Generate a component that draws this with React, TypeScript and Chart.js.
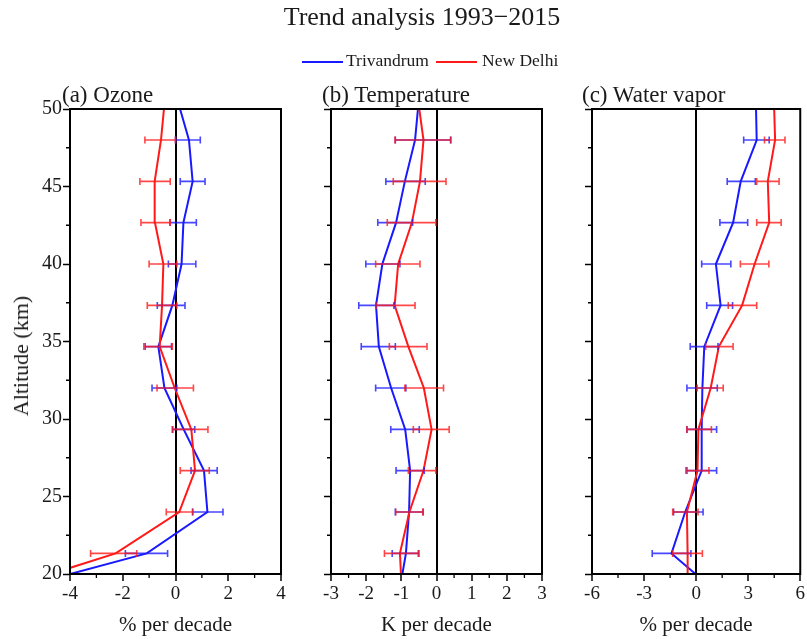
import React, { useEffect, useRef } from 'react';
import { Chart, registerables } from 'chart.js';
Chart.register(...registerables);

const FONT = "'Liberation Serif', 'Times New Roman', Times, serif";
const TEXT = '#1a1a1a';
const BLUE = 'rgb(25,25,255)';
const RED = 'rgb(255,25,25)';
const BLUE_BAR = 'rgba(25,25,255,0.8)';
const RED_BAR = 'rgba(255,25,25,0.8)';

const TITLE = 'Trend analysis 1993\u22122015';
const SERIES_NAMES = ['Trivandrum', 'New Delhi'];
const PANEL_TITLES = ['(a) Ozone', '(b) Temperature', '(c) Water vapor'];
const X_TITLES = ['% per decade', 'K per decade', '% per decade'];
const Y_TITLE = 'Altitude (km)';

// altitude levels (km)
const ALTITUDE = [18.67, 21.33, 24, 26.67, 29.33, 32, 34.67, 37.33, 40, 42.67, 45.33, 48, 50.67];
const Y_TICKS = [20, 25, 30, 35, 40, 45, 50];
const X_TICKS_OZ = [-4, -2, 0, 2, 4];
const X_TICKS_T = [-3, -2, -1, 0, 1, 2, 3];
const X_TICKS_WV = [-6, -3, 0, 3, 6];

// (a) Ozone, % per decade
const OZ_TRV = [-6.9, -1.09, 1.21, 1.08, 0.31, -0.42, -0.65, -0.12, 0.23, 0.3, 0.65, 0.51, 0.06];
const OZ_TRV_LO = [null, -1.9, 0.65, 0.59, -0.12, -0.89, -1.15, -0.69, -0.27, -0.21, 0.18, 0.0, null];
const OZ_TRV_HI = [null, -0.3, 1.8, 1.58, 0.73, 0.05, -0.15, 0.36, 0.77, 0.79, 1.12, 0.94, null];
const OZ_DEL = [-7.2, -2.27, 0.14, 0.74, 0.6, -0.03, -0.6, -0.51, -0.46, -0.78, -0.79, -0.55, -0.4];
const OZ_DEL_LO = [null, -3.22, -0.35, 0.18, -0.1, -0.7, -1.2, -1.07, -1.0, -1.31, -1.35, -1.16, null];
const OZ_DEL_HI = [null, -1.47, 0.65, 1.28, 1.23, 0.68, -0.12, 0.05, 0.05, -0.2, -0.2, 0.0, null];

// (b) Temperature, K per decade
const T_TRV = [-1.07, -0.87, -0.78, -0.75, -0.89, -1.29, -1.64, -1.72, -1.54, -1.15, -0.9, -0.61, -0.5];
const T_TRV_LO = [null, -1.26, -1.17, -1.15, -1.3, -1.73, -2.14, -2.21, -2.01, -1.67, -1.44, -1.17, null];
const T_TRV_HI = [null, -0.5, -0.38, -0.35, -0.49, -0.87, -1.17, -1.21, -1.04, -0.68, -0.32, 0.4, null];
const T_DEL = [-0.98, -1.04, -0.77, -0.37, -0.14, -0.36, -0.8, -1.19, -1.09, -0.7, -0.47, -0.37, -0.53];
const T_DEL_LO = [null, -1.48, -1.16, -0.8, -0.66, -0.9, -1.34, -1.72, -1.73, -1.4, -1.23, -1.18, null];
const T_DEL_HI = [null, -0.52, -0.39, -0.02, 0.36, 0.2, -0.27, -0.61, -0.47, -0.02, 0.27, 0.41, null];

// (c) Water vapor, % per decade
const WV_TRV = [1.35, -1.42, -0.63, 0.32, 0.32, 0.36, 0.47, 1.41, 1.14, 2.13, 2.57, 3.49, 3.44];
const WV_TRV_LO = [null, -2.53, -1.3, -0.53, -0.53, -0.53, -0.34, 0.61, 0.32, 1.37, 1.79, 2.74, null];
const WV_TRV_HI = [null, -0.3, 0.4, 1.18, 1.18, 1.22, 1.26, 2.1, 2.0, 2.97, 3.41, 4.21, null];
const WV_DEL = [-0.51, -0.49, -0.53, 0.08, 0.13, 0.84, 1.31, 2.65, 3.37, 4.21, 4.13, 4.55, 4.48];
const WV_DEL_LO = [null, -1.35, -1.35, -0.59, -0.53, 0.06, 0.55, 1.85, 2.55, 3.49, 3.49, 3.94, null];
const WV_DEL_HI = [null, 0.36, 0.11, 0.74, 0.88, 1.56, 2.13, 3.49, 4.19, 4.9, 4.78, 5.12, null];

const H = 639;
const AREA_TOP = 109;
const AREA_BOTTOM = 574;

type Series = { x: number[]; lo: (number | null)[]; hi: (number | null)[] };

type PanelProps = {
  left: number;
  width: number;
  areaLeft: number;
  areaRight: number;
  xTicks: number[];
  xTitle: string;
  yLabels: boolean;
  trv: Series;
  del: Series;
};

function mids(arr: number[]) {
  const out: number[] = [];
  for (let i = 0; i < arr.length - 1; i++) out.push((arr[i] + arr[i + 1]) / 2);
  return out;
}

function Panel(p: PanelProps) {
  const ref = useRef<HTMLCanvasElement>(null);
  useEffect(() => {
    const minorX = mids(p.xTicks);
    const minorY = mids(Y_TICKS);
    const errorBars = {
      id: 'errorBars',
      afterDatasetsDraw(chart: any) {
        const { ctx, scales } = chart;
        const xs = scales.x, ys = scales.y;
        const sets = [
          { s: p.trv, c: BLUE_BAR },
          { s: p.del, c: RED_BAR },
        ];
        ctx.save();
        ctx.lineWidth = 1.6;
        for (const { s, c } of sets) {
          ctx.strokeStyle = c;
          for (let i = 0; i < ALTITUDE.length; i++) {
            const lo = s.lo[i], hi = s.hi[i];
            if (lo == null || hi == null) continue;
            const y = ys.getPixelForValue(ALTITUDE[i]);
            const x1 = xs.getPixelForValue(lo);
            const x2 = xs.getPixelForValue(hi);
            ctx.beginPath();
            ctx.moveTo(x1, y); ctx.lineTo(x2, y);
            ctx.moveTo(x1, y - 3.5); ctx.lineTo(x1, y + 3.5);
            ctx.moveTo(x2, y - 3.5); ctx.lineTo(x2, y + 3.5);
            ctx.stroke();
          }
        }
        ctx.restore();
      },
    };
    const frame = {
      id: 'frame',
      afterDraw(chart: any) {
        const { ctx, chartArea: ca, scales } = chart;
        ctx.save();
        ctx.strokeStyle = '#000';
        ctx.lineWidth = 1.3;
        ctx.beginPath();
        for (const v of minorX) {
          const x = scales.x.getPixelForValue(v);
          ctx.moveTo(x, ca.bottom); ctx.lineTo(x, ca.bottom + 4);
        }
        for (const v of minorY) {
          const y = scales.y.getPixelForValue(v);
          ctx.moveTo(ca.left, y); ctx.lineTo(ca.left - 4, y);
        }
        ctx.stroke();
        ctx.lineWidth = 2;
        ctx.strokeRect(ca.left, ca.top, ca.right - ca.left, ca.bottom - ca.top);
        ctx.restore();
      },
    };
    const chart = new Chart(ref.current as HTMLCanvasElement, {
      type: 'scatter',
      data: {
        datasets: [
          {
            label: SERIES_NAMES[0],
            data: ALTITUDE.map((a, i) => ({ x: p.trv.x[i], y: a })),
            showLine: true,
            borderColor: BLUE,
            backgroundColor: BLUE,
            borderWidth: 2,
            pointRadius: 0,
            tension: 0,
            order: 1,
          },
          {
            label: SERIES_NAMES[1],
            data: ALTITUDE.map((a, i) => ({ x: p.del.x[i], y: a })),
            showLine: true,
            borderColor: RED,
            backgroundColor: RED,
            borderWidth: 2,
            pointRadius: 0,
            tension: 0,
            order: 0,
          },
        ],
      },
      options: {
        animation: false,
        responsive: false,
        events: [],
        layout: { padding: { left: 0, top: AREA_TOP, right: p.width - p.areaRight, bottom: 0 } },
        plugins: { legend: { display: false }, tooltip: { enabled: false }, title: { display: false } },
        scales: {
          x: {
            type: 'linear',
            position: 'bottom',
            min: p.xTicks[0],
            max: p.xTicks[p.xTicks.length - 1],
            afterBuildTicks: (s: any) => { s.ticks = p.xTicks.map((v) => ({ value: v })); },
            afterFit: (s: any) => { s.height = H - AREA_BOTTOM; },
            border: { display: false },
            grid: {
              drawOnChartArea: true,
              color: (c: any) => (c.tick && c.tick.value === 0 ? '#000' : 'rgba(0,0,0,0)'),
              lineWidth: 2,
              tickColor: '#000',
              tickLength: 7,
              tickWidth: 1.5,
            },
            ticks: { color: TEXT, font: { family: FONT, size: 19 }, padding: 2, maxRotation: 0, autoSkip: false },
            title: { display: true, text: p.xTitle, color: TEXT, font: { family: FONT, size: 21 }, padding: { top: 0, bottom: 1 } },
          },
          y: {
            type: 'linear',
            min: 20,
            max: 50,
            afterBuildTicks: (s: any) => { s.ticks = Y_TICKS.map((v) => ({ value: v })); },
            afterFit: (s: any) => { s.width = p.areaLeft; },
            border: { display: false },
            grid: { drawOnChartArea: false, color: 'rgba(0,0,0,0)', tickColor: '#000', tickLength: 7, tickWidth: 1.5 },
            ticks: { display: p.yLabels, color: TEXT, font: { family: FONT, size: 20 }, padding: 1, autoSkip: false },
          },
        },
      },
      plugins: [errorBars, frame],
    } as any);
    return () => chart.destroy();
  }, []);
  return (
    <canvas
      ref={ref}
      width={p.width}
      height={H}
      style={{ position: 'absolute', left: p.left, top: 0, width: p.width, height: H }}
    />
  );
}

function Txt(props: { x: number; base: number; size: number; text: string; center?: boolean }) {
  const { x, base, size, text, center } = props;
  return (
    <div
      style={{
        position: 'absolute',
        left: x,
        top: base - 0.8375 * size,
        fontFamily: FONT,
        fontSize: size,
        lineHeight: `${size}px`,
        color: TEXT,
        whiteSpace: 'nowrap',
        transform: center ? 'translateX(-50%)' : undefined,
      }}
    >
      {text}
    </div>
  );
}

export default function App() {
  return (
    <div style={{ position: 'absolute', left: 0, top: 0, width: 807, height: 639, background: '#fff', overflow: 'hidden' }}>
      <Panel left={0} width={292} areaLeft={70} areaRight={281} xTicks={X_TICKS_OZ} xTitle={X_TITLES[0]} yLabels={true}
        trv={{ x: OZ_TRV, lo: OZ_TRV_LO, hi: OZ_TRV_HI }} del={{ x: OZ_DEL, lo: OZ_DEL_LO, hi: OZ_DEL_HI }} />
      <Panel left={296} width={254} areaLeft={35} areaRight={246} xTicks={X_TICKS_T} xTitle={X_TITLES[1]} yLabels={false}
        trv={{ x: T_TRV, lo: T_TRV_LO, hi: T_TRV_HI }} del={{ x: T_DEL, lo: T_DEL_LO, hi: T_DEL_HI }} />
      <Panel left={556} width={251} areaLeft={36} areaRight={246} xTicks={X_TICKS_WV} xTitle={X_TITLES[2]} yLabels={false}
        trv={{ x: WV_TRV, lo: WV_TRV_LO, hi: WV_TRV_HI }} del={{ x: WV_DEL, lo: WV_DEL_LO, hi: WV_DEL_HI }} />

      <Txt x={422} base={26} size={26} text={TITLE} center />

      <div style={{ position: 'absolute', left: 302, top: 61, width: 41, height: 2, background: BLUE }} />
      <Txt x={346} base={67} size={17.5} text={SERIES_NAMES[0]} />
      <div style={{ position: 'absolute', left: 436, top: 61, width: 41, height: 2, background: RED }} />
      <Txt x={482} base={67} size={17.5} text={SERIES_NAMES[1]} />

      <Txt x={62} base={102} size={23} text={PANEL_TITLES[0]} />
      <Txt x={322} base={102} size={23} text={PANEL_TITLES[1]} />
      <Txt x={582} base={102} size={23} text={PANEL_TITLES[2]} />

      <div
        style={{
          position: 'absolute',
          left: 20.6,
          top: 356,
          fontFamily: FONT,
          fontSize: 22,
          lineHeight: '22px',
          color: TEXT,
          whiteSpace: 'nowrap',
          transform: 'translate(-50%, -50%) rotate(-90deg)',
        }}
      >
        {Y_TITLE}
      </div>
    </div>
  );
}
